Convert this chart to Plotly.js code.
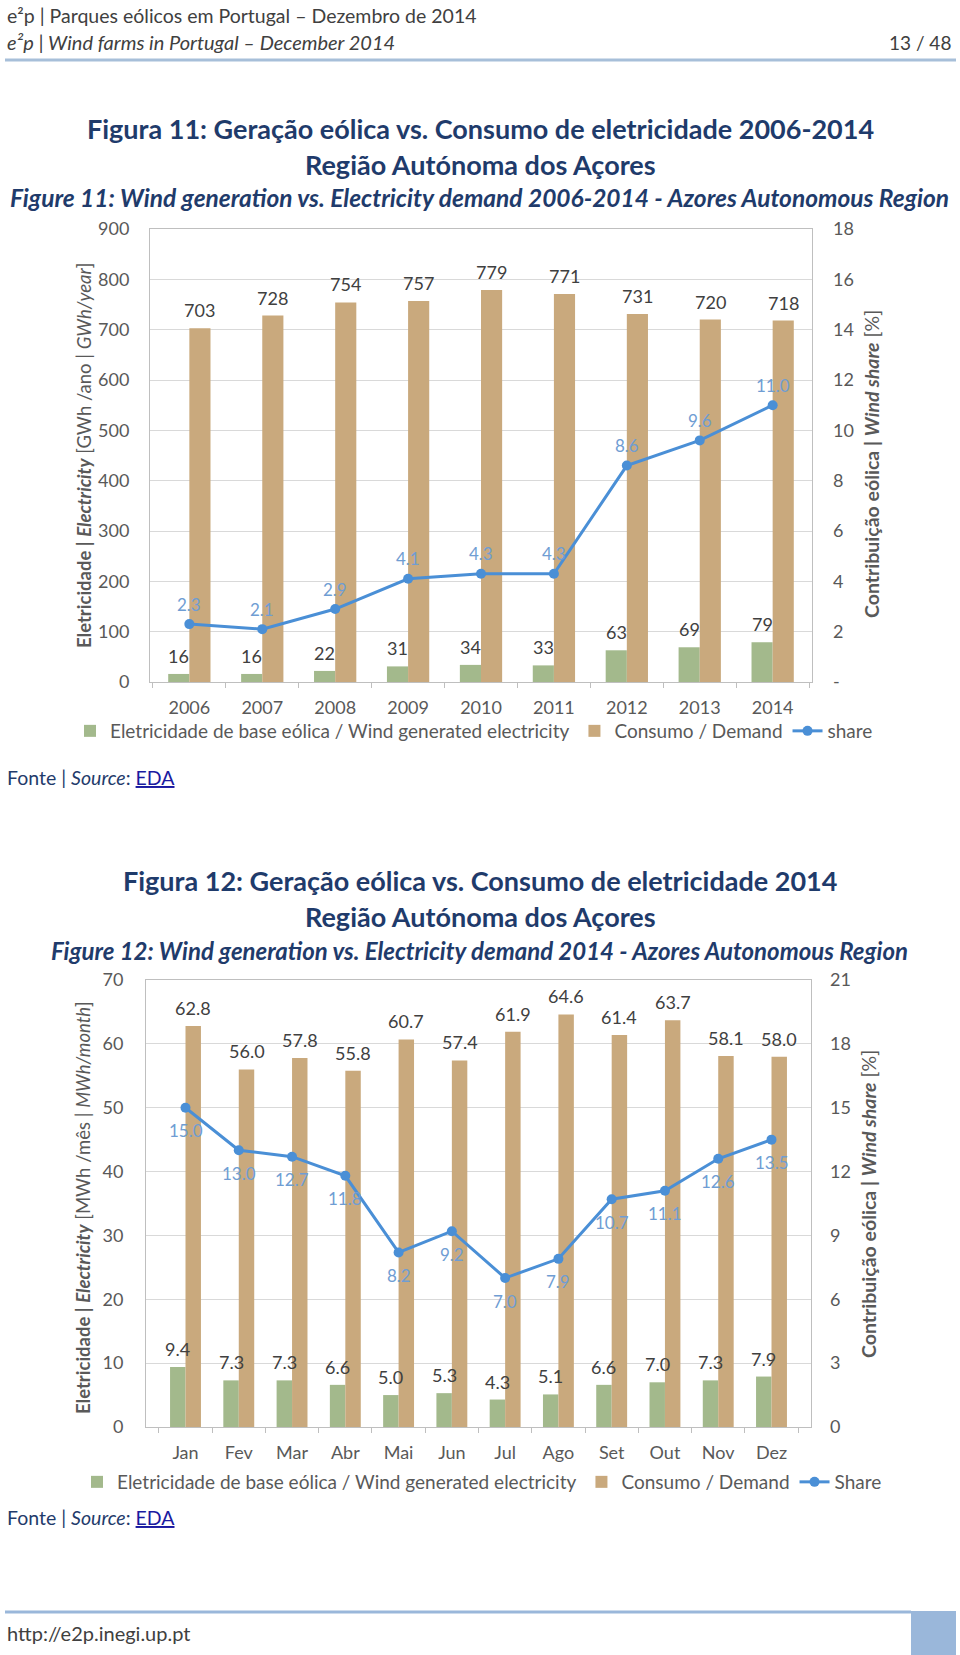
<!DOCTYPE html>
<html><head><meta charset="utf-8">
<script src="https://cdn.plot.ly/plotly-3.0.1.min.js"></script>
<style>html,body{margin:0;padding:0;background:#fff}#chart{width:960px;height:1655px}</style>
</head><body><div id="chart"></div>
<script>
// ---------- data ----------
const years = ['2006','2007','2008','2009','2010','2011','2012','2013','2014'];
const windYear = [16,16,22,31,34,33,63,69,79];
const demandYear = [703,728,754,757,779,771,731,720,718];
const shareYear = [2.3,2.1,2.9,4.1,4.3,4.3,8.6,9.6,11.0];
const shareTickVals1 = [0,2,4,6,8,10,12,14,16,18];
const shareTickText1 = ['-','2','4','6','8','10','12','14','16','18'];

const months = ['Jan','Fev','Mar','Abr','Mai','Jun','Jul','Ago','Set','Out','Nov','Dez'];
const windMonth = [9.4,7.3,7.3,6.6,5.0,5.3,4.3,5.1,6.6,7.0,7.3,7.9];
const demandMonth = [62.8,56.0,57.8,55.8,60.7,57.4,61.9,64.6,61.4,63.7,58.1,58.0];
const shareMonth = [15.0,13.0,12.7,11.8,8.2,9.2,7.0,7.9,10.7,11.1,12.6,13.5];
const shareTickVals2 = [0,3,6,9,12,15,18,21];

const nameWind = 'Eletricidade de base eólica / Wind generated electricity';
const nameDemand = 'Consumo / Demand';

// ---------- helpers ----------
const W = 960, H = 1655;
const px = x => x / W;
const py = y => 1 - y / H;
const FONT = 'Lato, "Open Sans", sans-serif';
const GREEN = '#a3b98c', TAN = '#c9a97d', BLUE = '#4a8fd6';
const NAVY = '#1f3b6b', GRAY = '#595959', DARK = '#404040', LBLUE = '#6f9dd3';
const BARGAP = 0.42;
const OFF = (1 - BARGAP) / 4;

const traces = [
  {type:'bar', x: years, y: windYear, name: nameWind, marker:{color: GREEN}, xaxis:'x', yaxis:'y', legend:'legend', hoverinfo:'skip'},
  {type:'bar', x: years, y: demandYear, name: nameDemand, marker:{color: TAN}, xaxis:'x', yaxis:'y', legend:'legend', hoverinfo:'skip'},
  {type:'scatter', mode:'lines+markers', x: years, y: shareYear, name:'share', line:{color: BLUE, width:3}, marker:{color: BLUE, size:10}, xaxis:'x', yaxis:'y2', legend:'legend', hoverinfo:'skip'},
  {type:'bar', x: months, y: windMonth, name: nameWind, marker:{color: GREEN}, xaxis:'x2', yaxis:'y3', legend:'legend2', hoverinfo:'skip'},
  {type:'bar', x: months, y: demandMonth, name: nameDemand, marker:{color: TAN}, xaxis:'x2', yaxis:'y3', legend:'legend2', hoverinfo:'skip'},
  {type:'scatter', mode:'lines+markers', x: months, y: shareMonth, name:'Share', line:{color: BLUE, width:3}, marker:{color: BLUE, size:10}, xaxis:'x2', yaxis:'y4', legend:'legend2', hoverinfo:'skip'}
];

const ann = [];
function text(x, y, t, size, color, opts) {
  ann.push(Object.assign({xref:'paper', yref:'paper', x: px(x), y: py(y), text: t, showarrow:false,
    xanchor:'center', yanchor:'middle', font:{family: FONT, size: size, color: color}}, opts || {}));
}

// header
text(5, 15, 'e²p | Parques eólicos em Portugal – Dezembro de 2014', 19.5, DARK, {xanchor:'left'});
text(5, 42, '<i>e²p | Wind farms in Portugal – December 2014</i>', 20, DARK, {xanchor:'left'});
text(953, 42, '13 / 48', 19, DARK, {xanchor:'right'});

// figure 11 titles
text(480, 129, '<b>Figura 11: Geração eólica vs. Consumo de eletricidade 2006-2014</b>', 27, NAVY);
text(480, 165, '<b>Região Autónoma dos Açores</b>', 27, NAVY);
text(479, 197, '<b><i>Figure 11: Wind generation vs. Electricity demand 2006-2014 - Azores Autonomous Region</i></b>', 24.5, NAVY);
// axis titles chart 1
text(84, 456, '<b>Eletricidade | <i>Electricity</i></b> [GWh /ano | <i>GWh/year</i>]', 18.5, GRAY, {textangle:-90});
text(872, 464, '<b>Contribuição eólica | <i>Wind share</i></b> [%]', 19.5, GRAY, {textangle:-90});
// source 1
text(5, 778, 'Fonte | <i>Source</i>: <span style="font-size:19.5px;text-decoration:underline;fill:#1a1aa0">EDA</span>', 19.5, NAVY, {xanchor:'left'});

// figure 12 titles
text(480, 881, '<b>Figura 12: Geração eólica vs. Consumo de eletricidade 2014</b>', 27, NAVY);
text(480, 917, '<b>Região Autónoma dos Açores</b>', 27, NAVY);
text(479, 951, '<b><i>Figure 12: Wind generation vs. Electricity demand 2014 - Azores Autonomous Region</i></b>', 24, NAVY);
text(83, 1208, '<b>Eletricidade | <i>Electricity</i></b> [MWh /mês | <i>MWh/month</i>]', 18.5, GRAY, {textangle:-90});
text(868, 1204, '<b>Contribuição eólica | <i>Wind share</i></b> [%]', 19.5, GRAY, {textangle:-90});
text(5, 1517, 'Fonte | <i>Source</i>: <span style="font-size:19.5px;text-decoration:underline;fill:#1a1aa0">EDA</span>', 19.5, NAVY, {xanchor:'left'});

// footer
text(5, 1633, 'http://e2p.inegi.up.pt', 20, DARK, {xanchor:'left'});

// data labels
function dataLabels(cats, vals, xref, yref, dx, yshift, size, color, fmt) {
  cats.forEach((c, i) => {
    ann.push({xref: xref, yref: yref, x: i + dx, y: vals[i], text: fmt(vals[i]), showarrow:false,
      xanchor:'center', yanchor: yshift >= 0 ? 'bottom' : 'top', yshift: yshift,
      font:{family: FONT, size: size, color: color}});
  });
}
dataLabels(years, windYear, 'x', 'y', -OFF, 5, 18, DARK, v => String(v));
dataLabels(years, demandYear, 'x', 'y', OFF, 5, 18, DARK, v => String(v));
dataLabels(months, windMonth, 'x2', 'y3', -OFF, 5, 18, DARK, v => v.toFixed(1));
dataLabels(months, demandMonth, 'x2', 'y3', OFF, 5, 18, DARK, v => v.toFixed(1));
years.forEach((c, i) => ann.push({xref:'x', yref:'y2', x: i, y: shareYear[i], text: shareYear[i].toFixed(1), showarrow:false,
  xanchor:'center', yanchor:'middle', yshift: 20, font:{family: FONT, size: 17, color: LBLUE}}));
months.forEach((c, i) => ann.push({xref:'x2', yref:'y4', x: i, y: shareMonth[i], text: shareMonth[i].toFixed(1), showarrow:false,
  xanchor:'center', yanchor:'middle', yshift: -23, font:{family: FONT, size: 17, color: LBLUE}}));

const tickFont = {family: FONT, size: 18, color: GRAY};
function xAxis(dom, anchor) {
  return {domain: dom, anchor: anchor, type:'category', showline:true, mirror:true, linecolor:'#bfbfbf', linewidth:1,
    ticks:'outside', tickson:'boundaries', ticklen:5, tickcolor:'#bfbfbf', tickfont: tickFont, showgrid:false,
    ticklabelstandoff: 9, fixedrange:true};
}
function yLeft(dom, anchor, range, dtick, standoff) {
  return {domain: dom, anchor: anchor, range: range, dtick: dtick, showline:true, mirror:true, linecolor:'#bfbfbf', linewidth:1,
    gridcolor:'#d9d9d9', gridwidth:1, zeroline:false, ticks:'', tickfont: tickFont, ticklabelstandoff: standoff, fixedrange:true};
}
function yRight(overlay, anchor, range, vals, txt, standoff) {
  return {overlaying: overlay, anchor: anchor, side:'right', range: range, tickvals: vals, ticktext: txt,
    showgrid:false, zeroline:false, showline:false, ticks:'', tickfont: tickFont, ticklabelstandoff: standoff, fixedrange:true};
}

const layout = {
  width: W, height: H, margin:{l:0, r:0, t:0, b:0}, paper_bgcolor:'#fff', plot_bgcolor:'#fff',
  font:{family: FONT, color: GRAY},
  barmode:'group', bargap: BARGAP, bargroupgap: 0,
  showlegend: true,
  xaxis: xAxis([px(150), px(812)], 'y'),
  yaxis: yLeft([py(682), py(229)], 'x', [0, 900], 100, 16),
  yaxis2: yRight('y', 'x', [0, 18], shareTickVals1, shareTickText1, 20),
  xaxis2: xAxis([px(146), px(811)], 'y3'),
  yaxis3: yLeft([py(1427), py(980)], 'x2', [0, 70], 10, 18),
  yaxis4: yRight('y3', 'x2', [0, 21], shareTickVals2, shareTickVals2.map(String), 18),
  legend: {orientation:'h', x: px(474), xanchor:'center', y: py(731), yanchor:'middle', font:{family: FONT, size:19, color: GRAY}, bgcolor:'rgba(0,0,0,0)', itemwidth:30},
  legend2: {orientation:'h', x: px(482), xanchor:'center', y: py(1482), yanchor:'middle', font:{family: FONT, size:19, color: GRAY}, bgcolor:'rgba(0,0,0,0)', itemwidth:30},
  annotations: ann,
  shapes: [
    {type:'line', xref:'paper', yref:'paper', x0: px(5), x1: px(956), y0: py(60), y1: py(60), line:{color:'#a7bfd9', width:3}},
    {type:'line', xref:'paper', yref:'paper', x0: px(5), x1: px(911), y0: py(1612), y1: py(1612), line:{color:'#9ab7da', width:3}},
    {type:'rect', xref:'paper', yref:'paper', x0: px(911), x1: px(956), y0: py(1655), y1: py(1611), fillcolor:'#9ab7da', line:{width:0}}
  ]
};

Plotly.newPlot('chart', traces, layout, {staticPlot:true, displayModeBar:false});
</script>
</body></html>
